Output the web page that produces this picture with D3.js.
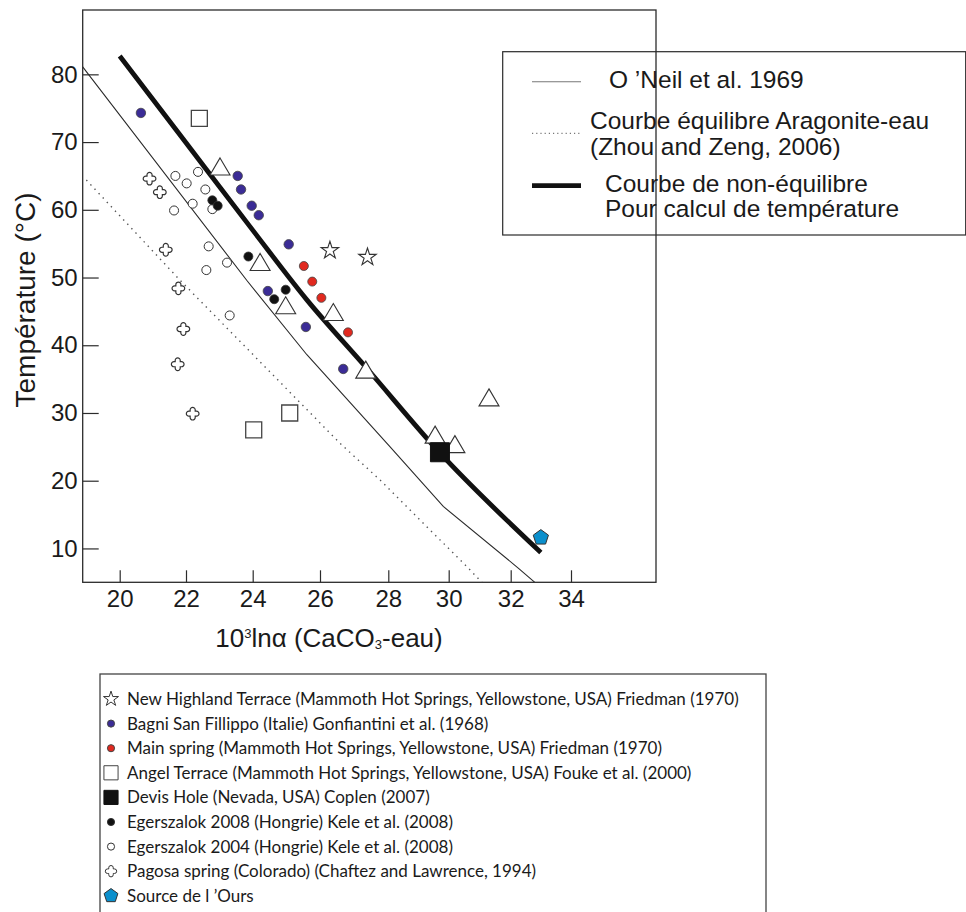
<!DOCTYPE html>
<html><head><meta charset="utf-8">
<script src="https://cdn.jsdelivr.net/npm/d3@7"></script>
<style>body{margin:0;background:#fff}svg{display:block}</style>
</head><body>
<svg id="c" width="966" height="912"></svg>
<script>
// ---------------- data ----------------
const xTicks = [20, 22, 24, 26, 28, 30, 32, 34];
const yTicks = [10, 20, 30, 40, 50, 60, 70, 80];

// curves [10^3 ln alpha, T °C]
const oneil = [[18.88,81.1],[23.82,49.6],[25.61,38.6],[28.06,25.0],[29.82,16.2],[32.25,7.1],[32.8,5.0]];
const aragonite = [[18.99,64.4],[21.82,49.6],[26.59,25.5],[27.76,20.1],[28.11,18.4],[30.63,7.1],[31.07,5.0]];
const nonEquilibrium = [[20.0,82.7],[22.0,69.9],[24.0,57.0],[25.61,46.7],[27.37,36.6],[29.71,24.1],[33.0,9.4]];

// point series
const newHighland = [[26.29,54.0],[27.39,53.0]];
const bagni = [[20.64,74.3],[23.55,65.0],[23.65,63.0],[23.97,60.6],[24.18,59.2],[25.07,54.9],[24.45,48.0],[25.58,42.7],[26.68,36.5]];
const mainSpring = [[25.52,51.7],[25.77,49.4],[26.04,47.0],[26.82,41.9]];
const angel = [[22.40,73.5],[24.03,27.5],[25.10,30.0]];
const devilsHole = [[29.71,24.2]];
const eger2008 = [[22.79,61.4],[22.95,60.6],[23.87,53.1],[24.64,46.8],[24.98,48.2]];
const eger2004 = [[21.68,65.0],[22.36,65.6],[22.02,63.9],[22.58,63.0],[22.20,60.9],[21.64,59.9],[22.79,60.1],[22.68,54.6],[23.23,52.2],[22.61,51.1],[23.31,44.4]];
const pagosa = [[20.90,64.6],[21.21,62.6],[21.39,54.1],[21.77,48.4],[21.92,42.4],[21.75,37.2],[22.20,29.9]];
const triangles = [[23.02,66.4],[24.22,52.3],[24.98,45.9],[26.39,44.9],[27.34,36.4],[31.30,32.3],[29.55,26.8],[30.20,25.4]];
const sourceOurs = [[33.0,11.6]];

const curveLabels = ["O \u2019Neil et al. 1969", "Courbe \u00e9quilibre Aragonite-eau|(Zhou and Zeng, 2006)", "Courbe de non-\u00e9quilibre|Pour calcul de temp\u00e9rature"];
const seriesLabels = [
  "New Highland Terrace (Mammoth Hot Springs, Yellowstone, USA) Friedman (1970)",
  "Bagni San Fillippo (Italie) Gonfiantini et al. (1968)",
  "Main spring (Mammoth Hot Springs, Yellowstone, USA) Friedman (1970)",
  "Angel Terrace (Mammoth Hot Springs, Yellowstone, USA) Fouke et al. (2000)",
  "Devis Hole (Nevada, USA) Coplen (2007)",
  "Egerszalok 2008 (Hongrie) Kele et al. (2008)",
  "Egerszalok 2004 (Hongrie) Kele et al. (2008)",
  "Pagosa spring (Colorado) (Chaftez and Lawrence, 1994)",
  "Source de l \u2019Ours"
];

// ---------------- layout ----------------
const plot = {left: 82.7, right: 656, top: 10, bottom: 582.3};
const xTickPx = [119.7, 186, 252.7, 320, 388.3, 448.7, 510.7, 571]; // hand-drawn, uneven axis
const x = d3.scaleLinear().domain([18.88, ...xTicks, 36.82]).range([plot.left, ...xTickPx, plot.right]);
const y = d3.scaleLinear().domain([5, 89.5]).range([plot.bottom, plot.top]);

const svg = d3.select("#c");
const INK = "#2b2b2b";
const AX_FONT = "'Liberation Sans', Arial, sans-serif";

// custom symbols
const symTriangle = {draw(ctx, size){ const s = Math.sqrt(size); const h = s*0.85;
  ctx.moveTo(0,-h/2); ctx.lineTo(s/2,h/2); ctx.lineTo(-s/2,h/2); ctx.closePath(); }};
const symPentagon = {draw(ctx, size){ const r = Math.sqrt(size)/2;
  for(let i=0;i<5;i++){ const a = -Math.PI/2 + i*2*Math.PI/5; const px=r*Math.cos(a), py=r*Math.sin(a); i?ctx.lineTo(px,py):ctx.moveTo(px,py);} ctx.closePath(); }};
const symRoundCross = {draw(ctx, size){ const L = Math.sqrt(size)/2, a = L*0.4, e = L-a;
  ctx.moveTo(-a,-e); ctx.arc(0,-e,a,Math.PI,0); ctx.lineTo(a,-a); ctx.lineTo(e,-a);
  ctx.arc(e,0,a,-Math.PI/2,Math.PI/2); ctx.lineTo(a,a); ctx.lineTo(a,e);
  ctx.arc(0,e,a,0,Math.PI); ctx.lineTo(-a,a); ctx.lineTo(-e,a);
  ctx.arc(-e,0,a,Math.PI/2,Math.PI*1.5); ctx.lineTo(-a,-a); ctx.closePath(); }};

// ---------------- axes ----------------
svg.append("defs").append("clipPath").attr("id","clip").append("rect")
  .attr("x",plot.left).attr("y",plot.top).attr("width",plot.right-plot.left).attr("height",plot.bottom-plot.top);

const gy = svg.append("g").attr("transform",`translate(${plot.left},0)`)
  .call(d3.axisLeft(y).tickValues(yTicks).tickSizeInner(-16).tickSizeOuter(0).tickPadding(5));
const gx = svg.append("g").attr("transform",`translate(0,${plot.bottom})`)
  .call(d3.axisBottom(x).tickValues(xTicks).tickSizeInner(-12).tickSizeOuter(0).tickPadding(8));
[gx, gy].forEach(g => {
  g.select(".domain").remove();
  g.selectAll(".tick line").attr("stroke",INK).attr("stroke-width",1.2);
  g.selectAll(".tick text").attr("fill","#1a1a1a").style("font-family",AX_FONT).style("font-size","24px");
});

svg.append("rect").attr("x",plot.left).attr("y",plot.top)
  .attr("width",plot.right-plot.left).attr("height",plot.bottom-plot.top)
  .attr("fill","none").attr("stroke",INK).attr("stroke-width",1.3);

// axis titles
const xt = svg.append("text").attr("x",329).attr("y",647).attr("text-anchor","middle")
  .style("font-family",AX_FONT).style("font-size","26px").attr("fill","#1a1a1a");
xt.append("tspan").text("10");
xt.append("tspan").text("3").style("font-size","13px").attr("dy","-9");
xt.append("tspan").text("ln\u03b1 (CaCO").attr("dy","9");
xt.append("tspan").text("3").style("font-size","13px").attr("dy","2");
xt.append("tspan").text("-eau)").attr("dy","-2");

svg.append("text").attr("transform","translate(35,300) rotate(-90)").attr("text-anchor","middle")
  .style("font-family",AX_FONT).style("font-size","28px").attr("fill","#1a1a1a")
  .text("Temp\u00e9rature (\u00b0C)");

// ---------------- curves ----------------
const line = d3.line().x(d => x(d[0])).y(d => y(d[1]));
const gc = svg.append("g").attr("clip-path","url(#clip)");
gc.append("path").datum(oneil).attr("d",line.curve(d3.curveLinear)).attr("fill","none")
  .attr("stroke",INK).attr("stroke-width",1.1);
gc.append("path").datum(aragonite).attr("d",line.curve(d3.curveLinear)).attr("fill","none")
  .attr("stroke","#555").attr("stroke-width",1.4).attr("stroke-dasharray","1.4,4.6");
gc.append("path").datum(nonEquilibrium).attr("d",line.curve(d3.curveMonotoneX)).attr("fill","none")
  .attr("stroke","#111").attr("stroke-width",4.8);

// ---------------- points ----------------
const series = [
  {data: triangles,   type: symTriangle,    size: 400, fill: "#fff",    stroke: "#333", sw: 1.1},
  {data: newHighland, type: d3.symbolStar,  size: 95,  fill: "#fff",    stroke: "#333", sw: 1.1},
  {data: angel,       type: d3.symbolSquare,size: 256, fill: "#fff",    stroke: "#444", sw: 1.3},
  {data: eger2004,    type: d3.symbolCircle,size: 64,  fill: "#fff",    stroke: "#333", sw: 1},
  {data: pagosa,      type: symRoundCross,  size: 160, fill: "#fff",    stroke: "#333", sw: 1.2},
  {data: bagni,       type: d3.symbolCircle,size: 70,  fill: "#3b2c96", stroke: "#444", sw: 0.8},
  {data: mainSpring,  type: d3.symbolCircle,size: 64,  fill: "#e1291f", stroke: "#444", sw: 0.8},
  {data: eger2008,    type: d3.symbolCircle,size: 64,  fill: "#111",    stroke: "#333", sw: 0.8},
  {data: devilsHole,  type: d3.symbolSquare,size: 361, fill: "#111",    stroke: "#111", sw: 1},
  {data: sourceOurs,  type: symPentagon,    size: 256, fill: "#0b8fcc", stroke: "#333", sw: 1}
];
series.forEach(s => {
  svg.append("g").selectAll("path").data(s.data).join("path")
    .attr("transform", d => `translate(${x(d[0])},${y(d[1])})`)
    .attr("d", d3.symbol(s.type, s.size))
    .attr("fill", s.fill).attr("stroke", s.stroke).attr("stroke-width", s.sw);
});

// ---------------- curve legend ----------------
const LG = svg.append("g");
LG.append("rect").attr("x",502.7).attr("y",51.7).attr("width",463).attr("height",183.3)
  .attr("fill","none").attr("stroke",INK).attr("stroke-width",1.2);
const curveStyles = [
  {y: 81.7,  sw: 1.1, dash: null, color: "#777", tx: 609, ty: [88]},
  {y: 133.3, sw: 1.2, dash: "1.2,3", color: "#777", tx: 590, ty: [129, 155]},
  {y: 185.7, sw: 4.8, dash: null, color: "#111", tx: 605, ty: [192, 217]}
];
curveLabels.forEach((lab, i) => {
  const st = curveStyles[i];
  LG.append("line").attr("x1",532).attr("x2",581).attr("y1",st.y).attr("y2",st.y)
    .attr("stroke",st.color).attr("stroke-width",st.sw).attr("stroke-dasharray",st.dash);
  lab.split("|").forEach((t, j) => {
    LG.append("text").attr("x",st.tx).attr("y",st.ty[j]).text(t)
      .style("font-family",AX_FONT).style("font-size","24.5px").attr("fill","#1a1a1a");
  });
});

// ---------------- series legend ----------------
const SL = svg.append("g");
SL.append("rect").attr("x",100).attr("y",674).attr("width",666).attr("height",260)
  .attr("fill","none").attr("stroke","#444").attr("stroke-width",1.3);
const legendSyms = [
  {type: d3.symbolStar,  size: 70,  fill: "#fff",    stroke: "#333"},
  {type: d3.symbolCircle,size: 40,  fill: "#3b2c96", stroke: "#444"},
  {type: d3.symbolCircle,size: 40,  fill: "#e1291f", stroke: "#444"},
  {type: d3.symbolSquare,size: 200, fill: "#fff",    stroke: "#444"},
  {type: d3.symbolSquare,size: 200, fill: "#111",    stroke: "#111"},
  {type: d3.symbolCircle,size: 40,  fill: "#111",    stroke: "#333"},
  {type: d3.symbolCircle,size: 40,  fill: "#fff",    stroke: "#333"},
  {type: symRoundCross,  size: 130, fill: "#fff",    stroke: "#333"},
  {type: symPentagon,    size: 210, fill: "#0b8fcc", stroke: "#333"}
];
seriesLabels.forEach((lab, i) => {
  const yy = 699 + i*24.6;
  const sy = legendSyms[i];
  SL.append("path").attr("transform",`translate(111,${yy})`).attr("d",d3.symbol(sy.type, sy.size))
    .attr("fill",sy.fill).attr("stroke",sy.stroke).attr("stroke-width",1);
  SL.append("text").attr("x",127).attr("y",yy+6).text(lab)
    .style("font-family","Lato, 'Open Sans', sans-serif").style("font-size","17px").attr("fill","#1a1a1a");
});
</script>
</body></html>
